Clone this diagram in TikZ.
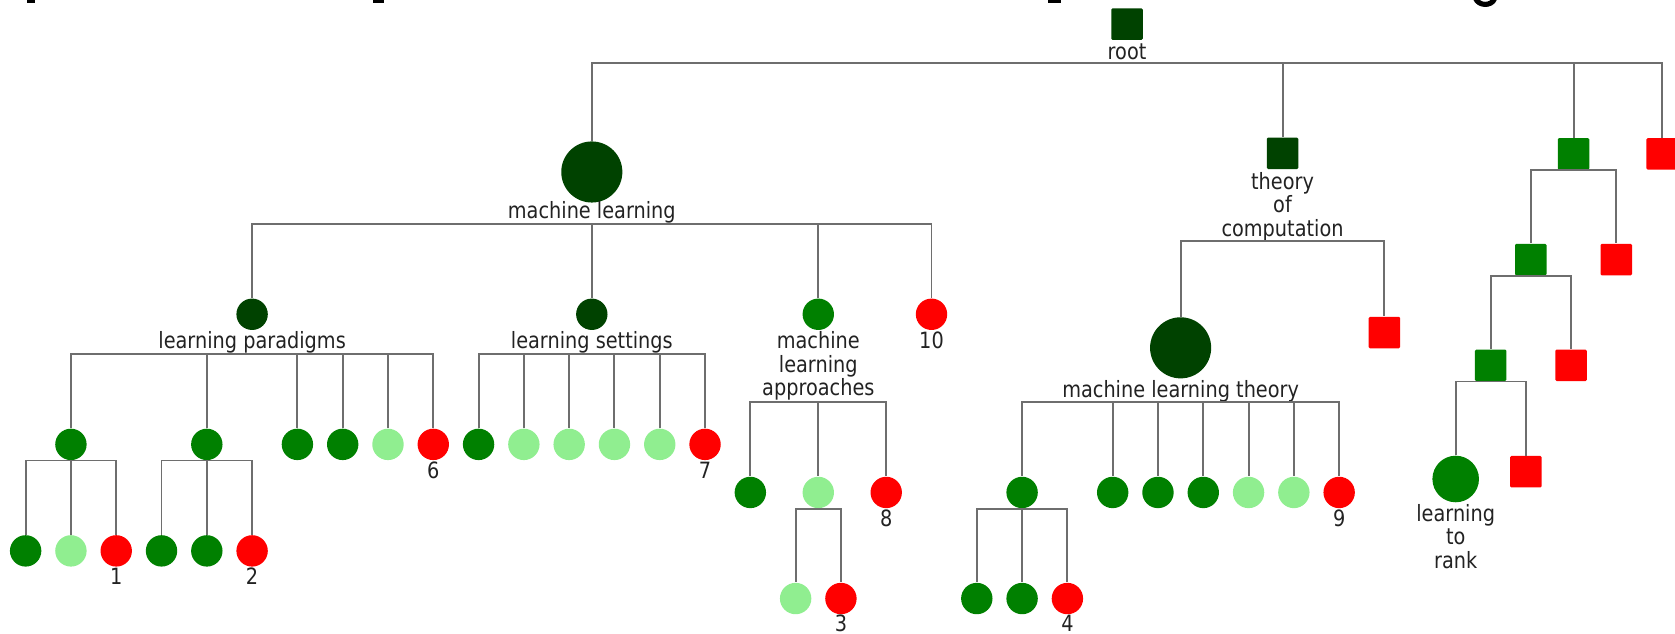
\documentclass[tikz,border=0pt]{standalone}
\usepackage{fontspec}
\setmainfont{DejaVu Sans}[FakeStretch=0.86]
\definecolor{dkg}{RGB}{0,66,0}
\definecolor{mdg}{RGB}{0,128,0}
\definecolor{ltg}{RGB}{144,238,144}
\definecolor{hot}{RGB}{255,0,0}
\definecolor{edge}{RGB}{110,110,110}
\definecolor{ink}{RGB}{34,34,34}
\begin{document}
\begin{tikzpicture}[x=0.5pt,y=-0.5pt,
  sm/.style={circle,inner sep=0pt,minimum size=14.7pt},
  lgc/.style={circle,inner sep=0pt,minimum size=28.6pt},
  mdc/.style={circle,inner sep=0pt,minimum size=21.8pt},
  sqr/.style={rectangle,inner sep=0pt,minimum size=14.75pt,rounded corners=0.6pt},
  c0/.style={fill=dkg},
  c1/.style={fill=mdg},
  c2/.style={fill=ltg},
  c3/.style={fill=hot},
  lbl/.style={anchor=base,inner sep=0pt,text=ink,font=\fontsize{10.5}{12}\selectfont},
  link/.style={draw=edge,line width=0.9pt}]
\useasboundingbox (0,0) rectangle (1568,593);
\clip (0,0) rectangle (1568,593);

% remnants of the heading line above
\fill[black] (25.3,-1) rectangle (32.8,2.5);
\fill[black] (349,-1) rectangle (359.5,2.5);
\fill[black] (981,-1) rectangle (993,2.5);
\draw[black,line width=2.4pt] (1381,-2) .. controls (1384,6) and (1396,6) .. (1399,-1);

% ---------- root ----------
\node[sqr,c0] (root) at (1055,22.6) {};
\node[lbl] (root-l) at (1055,55.5) {root};
\coordinate (root-b) at (1055,59);

% ---------- level 1 ----------
\node[lgc,c0] (ml) at (554,161) {};
\node[lbl] (ml-l) at (554,205) {machine learning};
\coordinate (ml-b) at (554,209.7);

\node[sqr,c0] (toc) at (1200.6,143.5) {};
\node[lbl] (toc-l1) at (1200.6,177.2) {theory};
\node[lbl] (toc-l2) at (1200.6,199.1) {of};
\node[lbl] (toc-l3) at (1200.6,221) {computation};
\coordinate (toc-b) at (1200.6,225.6);

\node[sqr,c1] (r1) at (1473,144) {};
\node[sqr,c3] (r0) at (1556,144) {};

\foreach \c in {ml,toc,r1,r0} \draw[link] (root-b) -| (\c);

% ---------- machine learning ----------
\node[sm,c0] (lp) at (236,294.2) {};
\node[lbl] (lp-l) at (236,326) {learning paradigms};
\coordinate (lp-b) at (236,331.4);

\node[sm,c0] (ls) at (554,294.2) {};
\node[lbl] (ls-l) at (554,326) {learning settings};
\coordinate (ls-b) at (554,331.4);

\node[sm,c1] (mla) at (766,294.2) {};
\node[lbl] (mla-l1) at (766,326) {machine};
\node[lbl] (mla-l2) at (766,348.5) {learning};
\node[lbl] (mla-l3) at (766,370.7) {approaches};
\coordinate (mla-b) at (766,376.6);

\node[sm,c3] (n10) at (872,294.2) {};
\node[lbl] (n10-l) at (872,326) {10};

\foreach \c in {lp,ls,mla,n10} \draw[link] (ml-b) -| (\c);

% ---------- learning paradigms ----------
\node[sm,c1] (pa) at (66.4,416) {};
\node[sm,c1] (pb) at (193.6,416) {};
\node[sm,c1] (pc) at (278.4,416) {};
\node[sm,c1] (pd) at (320.8,416) {};
\node[sm,c2] (pe) at (363.2,416) {};
\node[sm,c3] (pf) at (405.6,416) {};
\node[lbl] (pf-l) at (405.6,447.6) {6};
\foreach \c in {pa,pb,pc,pd,pe,pf} \draw[link] (lp-b) -| (\c);

\node[sm,c1] (pa1) at (24,515.7) {};
\node[sm,c2] (pa2) at (66.4,515.7) {};
\node[sm,c3] (pa3) at (108.8,515.7) {};
\node[lbl] (pa3-l) at (108.8,547.5) {1};
\foreach \c in {pa1,pa2,pa3} \draw[link] (pa.south) -| (\c);

\node[sm,c1] (pb1) at (151.2,515.7) {};
\node[sm,c1] (pb2) at (193.6,515.7) {};
\node[sm,c3] (pb3) at (236,515.7) {};
\node[lbl] (pb3-l) at (236,547.5) {2};
\foreach \c in {pb1,pb2,pb3} \draw[link] (pb.south) -| (\c);

% ---------- learning settings ----------
\node[sm,c1] (sa) at (448,416) {};
\node[sm,c2] (sb) at (490.4,416) {};
\node[sm,c2] (sc) at (532.8,416) {};
\node[sm,c2] (sd) at (575.2,416) {};
\node[sm,c2] (se) at (617.6,416) {};
\node[sm,c3] (sf) at (660,416) {};
\node[lbl] (sf-l) at (660,447.6) {7};
\foreach \c in {sa,sb,sc,sd,se,sf} \draw[link] (ls-b) -| (\c);

% ---------- machine learning approaches ----------
\node[sm,c1] (aa) at (702.4,461) {};
\node[sm,c2] (ab) at (766,461) {};
\node[sm,c3] (ac) at (829.6,461) {};
\node[lbl] (ac-l) at (829.6,493.3) {8};
\foreach \c in {aa,ab,ac} \draw[link] (mla-b) -| (\c);

\node[sm,c2] (ab1) at (744.8,560.3) {};
\node[sm,c3] (ab2) at (787.2,560.3) {};
\node[lbl] (ab2-l) at (787.2,591) {3};
\foreach \c in {ab1,ab2} \draw[link] (ab.south) -| (\c);

% ---------- theory of computation ----------
\node[lgc,c0] (mlt) at (1105.2,325.6) {};
\node[lbl] (mlt-l) at (1105.2,372) {machine learning theory};
\coordinate (mlt-b) at (1105.2,376.6);
\node[sqr,c3] (tz) at (1296,311.3) {};
\foreach \c in {mlt,tz} \draw[link] (toc-b) -| (\c);

\node[sm,c1] (ta) at (956.8,461) {};
\node[sm,c1] (tb) at (1041.6,461) {};
\node[sm,c1] (tc) at (1084,461) {};
\node[sm,c1] (td) at (1126.4,461) {};
\node[sm,c2] (te) at (1168.8,461) {};
\node[sm,c2] (tf) at (1211.2,461) {};
\node[sm,c3] (tg) at (1253.6,461) {};
\node[lbl] (tg-l) at (1253.6,493.3) {9};
\foreach \c in {ta,tb,tc,td,te,tf,tg} \draw[link] (mlt-b) -| (\c);

\node[sm,c1] (ta1) at (914.4,560.3) {};
\node[sm,c1] (ta2) at (956.8,560.3) {};
\node[sm,c3] (ta3) at (999.2,560.3) {};
\node[lbl] (ta3-l) at (999.2,591) {4};
\foreach \c in {ta1,ta2,ta3} \draw[link] (ta.south) -| (\c);

% ---------- right-hand chain ----------
\node[sqr,c1] (r2) at (1433,243) {};
\node[sqr,c3] (r3) at (1513,243) {};
\foreach \c in {r2,r3} \draw[link] (r1.south) -| (\c);

\node[sqr,c1] (r4) at (1395.4,342) {};
\node[sqr,c3] (r5) at (1470.7,342) {};
\foreach \c in {r4,r5} \draw[link] (r2.south) -| (\c);

\node[mdc,c1] (ltr) at (1362.7,448.4) {};
\node[sqr,c3] (r6) at (1428.4,441.6) {};
\foreach \c in {ltr,r6} \draw[link] (r4.south) -| (\c);
\node[lbl] (ltr-l1) at (1362.7,488) {learning};
\node[lbl] (ltr-l2) at (1362.7,510) {to};
\node[lbl] (ltr-l3) at (1362.7,532) {rank};
\end{tikzpicture}
\end{document}
